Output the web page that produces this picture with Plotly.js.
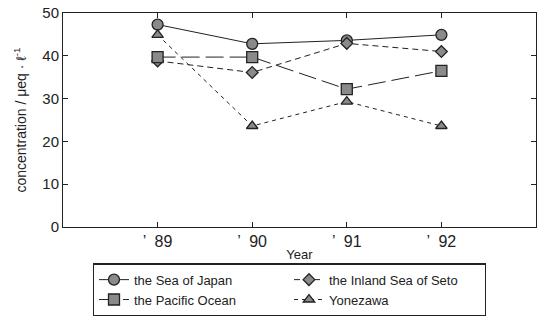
<!DOCTYPE html>
<html>
<head>
<meta charset="utf-8">
<script src="https://cdn.plot.ly/plotly-3.0.1.min.js"></script>
<style>html,body{margin:0;padding:0;background:#fff;}#chart{width:543px;height:322px;}</style>
</head>
<body>
<div id="chart"></div>
<script>
const years = [1, 2, 3, 4];
const yearLabels = ["’  89", "’  90", "’  91", "’  92"];
const seaOfJapan = [47.3, 42.8, 43.6, 44.9];
const inlandSeaOfSeto = [38.8, 36.1, 42.9, 41.0];
const pacificOcean = [39.7, 39.7, 32.2, 36.5];
const yonezawa = [44.9, 23.6, 29.3, 23.6];

const seriesNames = ["the Sea of Japan", "the Inland Sea of Seto", "the Pacific Ocean", "Yonezawa"];
const seriesData = [seaOfJapan, inlandSeaOfSeto, pacificOcean, yonezawa];
const symbols = ["circle", "diamond", "square", "triangle-up"];
const dashes = ["solid", "6px,4px", "18px,6px", "4px,4px"];
const sizes = [11, 9, 11, 10];

const traces = seriesNames.map((nm, i) => ({
  x: years, y: seriesData[i], name: nm, type: 'scatter', mode: 'lines+markers',
  line: {color: '#222', width: 1, dash: dashes[i]},
  marker: {symbol: symbols[i], size: sizes[i], color: '#8a8a8a', line: {color: '#222', width: 1.3}}
}));

const layout = {
  width: 543, height: 322,
  margin: {l: 63, r: 7, t: 13, b: 94},
  paper_bgcolor: '#fff', plot_bgcolor: '#fff',
  font: {family: 'Liberation Sans, Arial, sans-serif', color: '#222'},
  showlegend: true,
  xaxis: {
    range: [0, 5], tickvals: years, ticktext: yearLabels,
    ticks: 'inside', ticklen: 5, tickcolor: '#222', mirror: 'ticks',
    showline: true, linecolor: '#222', linewidth: 1, showgrid: false, zeroline: false,
    tickfont: {size: 16},
    title: {text: 'Year', font: {size: 13}, standoff: 0}
  },
  yaxis: {
    range: [0, 50], tickvals: [0, 10, 20, 30, 40, 50],
    ticks: 'inside', ticklen: 5, tickcolor: '#222', mirror: 'ticks',
    showline: true, linecolor: '#222', linewidth: 1, showgrid: false, zeroline: false,
    tickfont: {size: 15},
    title: {text: 'concentration / μeq · ℓ<sup>-1</sup>', font: {size: 14}, standoff: 12}
  },
  legend: {
    orientation: 'h', x: 0.063, xanchor: 'left', y: -0.165, yanchor: 'top',
    entrywidth: 150, itemwidth: 30, bordercolor: '#222', borderwidth: 1.2, bgcolor: '#fff',
    font: {size: 13}, traceorder: 'normal'
  }
};

Plotly.newPlot('chart', traces, layout, {displayModeBar: false, staticPlot: true});
</script>
</body>
</html>
